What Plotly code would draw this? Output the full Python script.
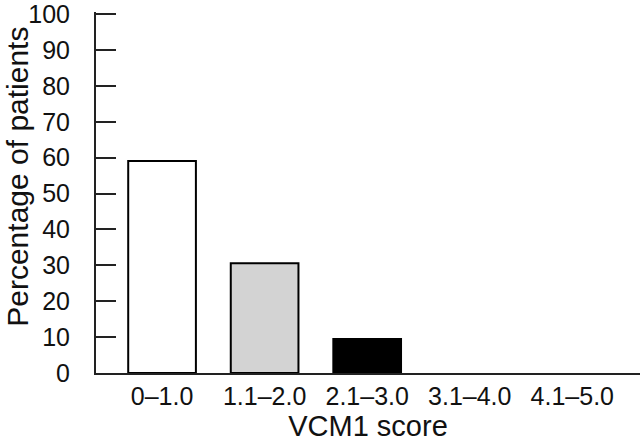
import plotly.graph_objects as go

# VCM1 score bins and share of patients (%)
categories = ["0\u20131.0", "1.1\u20132.0", "2.1\u20133.0", "3.1\u20134.0", "4.1\u20135.0"]
percent = [59.1, 30.6, 9.5, 0, 0]
bar_colors = ["white", "#d3d3d3", "black", "white", "white"]
y_ticks = [0, 10, 20, 30, 40, 50, 60, 70, 80, 90, 100]

fig = go.Figure()
fig.add_trace(go.Bar(
    x=categories, y=percent,
    marker=dict(color=bar_colors,
                line=dict(color="black", width=[2 if v > 0 else 0 for v in percent])),
    width=0.66,
    showlegend=False,
))

font = dict(family="Liberation Sans, Arial, sans-serif", color="#111111")

fig.update_layout(
    width=640, height=442,
    margin=dict(l=96, r=0, t=6, b=69),
    plot_bgcolor="white", paper_bgcolor="white",
    font=font,
    xaxis=dict(
        range=[-0.644, 4.66],
        showline=True, linecolor="#222222", linewidth=2,
        ticks="", showgrid=False, zeroline=False,
        tickfont=dict(size=25),
        ticklabelstandoff=0,
        title=dict(text="VCM1 score", font=dict(size=29), standoff=9),
    ),
    yaxis=dict(
        range=[0, 100.6], tickmode="array", tickvals=y_ticks,
        showline=True, linecolor="#222222", linewidth=2,
        ticks="inside", ticklen=20, tickwidth=2, tickcolor="#222222",
        showgrid=False, zeroline=False,
        tickfont=dict(size=25),
        ticklabelstandoff=19,
        ticklabeloverflow="allow",
    ),
)

# y title drawn as a rotated annotation so it can sit a bit above centre, as in the original
fig.add_annotation(
    text="Percentage of patients",
    xref="paper", yref="paper", x=-0.1434, y=0.5436,
    xanchor="center", yanchor="middle",
    textangle=-90, showarrow=False,
    font=dict(size=30),
)

# drop the default 8px body margin so the fixed-size figure fills the window
fig.write_html("out.html", config={"displayModeBar": False},
               post_script="document.body.style.margin='0';")
